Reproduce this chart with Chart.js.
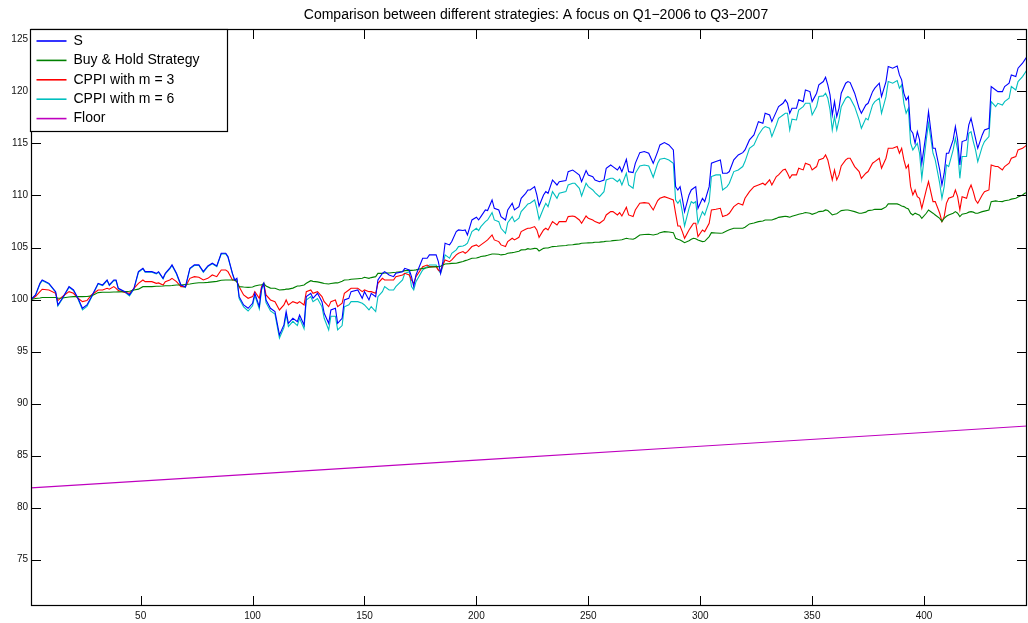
<!DOCTYPE html>
<html>
<head>
<meta charset="utf-8">
<script src="https://cdn.jsdelivr.net/npm/chart.js@4.4.1/dist/chart.umd.min.js"></script>
<style>
  html, body { margin: 0; padding: 0; background: #fff; }
  canvas { display: block; }
</style>
</head>
<body>
<canvas id="c" width="1028" height="623"></canvas>
<script>
const TITLE = "Comparison between different strategies: A focus on Q1\u22122006 to Q3\u22122007";
const seriesLabels = ["S", "Buy & Hold Strategy", "CPPI with m = 3", "CPPI with m = 6", "Floor"];
const xTicks = [50, 100, 150, 200, 250, 300, 350, 400];
const yTicks = [75, 80, 85, 90, 95, 100, 105, 110, 115, 120, 125];

const days = [
  1,3,5,6,9,12,13,15,18,20,22,24,26,28,31,33,35,36,38,39,40,43,45,47,49,51,52,55,57,58,60,61,63,64,66,68,70,72,74,
  76,78,80,82,84,86,88,89,91,92,93,94,96,98,100,101,103,104,105,106,108,110,112,114,115,116,118,120,121,123,124,126,127,129,131,132,134,135,137,138,140,141,143,144,147,149,150,
  152,153,155,156,158,159,161,163,164,167,168,170,171,172,173,176,178,179,182,183,184,185,186,188,189,191,192,194,195,196,198,200,201,202,204,205,207,208,210,211,213,214,216,217,219,220,222,223,
  224,226,227,228,230,231,232,234,236,237,240,241,243,244,246,247,249,250,252,253,255,257,258,260,261,263,264,265,267,268,270,271,273,275,277,279,281,282,284,286,288,289,290,291,292,293,295,296,
  297,298,299,301,302,304,305,307,309,310,312,313,315,317,319,320,322,324,326,328,329,331,332,334,335,337,338,339,340,341,343,344,346,347,349,350,352,353,355,356,357,358,359,360,361,362,363,365,366,367,369,
  371,372,374,375,377,378,380,381,383,384,386,388,389,390,391,392,393,394,395,396,397,398,399,401,402,404,405,407,408,409,410,411,413,414,415,416,417,419,420,421,422,423,424,426,427,429,430,432,433,435,436,438,439,441,442,444,445,446
];

const S = [
  100.0,100.44,101.56,101.88,101.56,100.76,99.48,100.12,101.24,100.92,100.12,99.16,99.48,100.28,101.56,101.40,101.88,101.40,101.88,101.88,101.08,100.76,100.44,101.08,102.68,103.01,102.68,102.68,102.52,102.68,102.04,102.52,103.01,103.33,102.52,101.40,101.24,103.01,103.33,
  103.33,102.68,103.23,103.49,103.23,104.45,104.45,104.13,102.52,101.88,102.04,100.28,99.48,99.16,99.64,100.60,99.32,101.08,101.56,99.96,99.16,98.84,96.60,97.56,98.84,97.72,98.20,97.88,98.52,97.56,100.28,100.60,100.12,100.60,99.80,98.68,97.72,99.00,99.16,97.72,98.20,99.96,100.12,100.76,100.92,100.12,100.76,
  99.96,100.60,100.28,101.88,102.52,102.68,102.36,102.20,102.52,102.68,103.00,102.84,102.20,101.24,102.36,103.97,103.97,104.29,104.29,103.64,102.52,103.64,105.41,105.25,105.57,106.53,106.69,106.63,106.69,106.21,107.65,107.91,107.65,107.97,108.61,108.55,109.57,108.77,108.61,107.97,107.65,108.61,109.25,108.61,108.93,109.73,110.21,110.53,
  110.53,110.85,110.05,108.99,110.05,110.37,110.21,111.49,111.01,111.33,111.43,112.29,112.45,112.29,111.97,111.33,112.39,111.97,111.81,111.49,111.33,111.49,112.61,112.93,112.77,112.45,112.77,112.29,113.48,112.29,112.20,113.09,114.12,114.22,114.06,113.09,114.22,114.86,115.08,114.86,114.38,110.85,110.53,110.85,109.73,108.45,110.05,110.53,
  110.69,110.85,108.77,109.73,109.41,110.85,113.10,113.26,113.42,112.14,112.14,112.30,113.42,113.90,114.12,114.38,115.34,115.82,117.10,116.94,117.90,117.74,117.10,118.06,118.54,118.86,119.19,118.86,117.90,118.38,118.38,119.19,119.02,120.15,119.99,119.02,119.83,120.63,120.95,121.36,120.63,119.67,117.74,119.02,117.58,118.38,119.83,120.79,120.95,120.85,119.83,
  118.38,117.90,118.70,118.86,119.98,120.31,120.79,119.50,120.95,122.39,122.23,122.45,121.59,121.11,119.82,119.18,119.50,116.30,115.98,115.02,116.14,115.34,113.10,116.14,118.06,114.54,114.54,112.46,111.01,112.14,114.06,114.06,115.34,116.62,115.34,112.94,115.18,115.34,116.78,117.42,116.46,115.50,114.54,115.82,116.30,116.46,120.47,120.14,119.98,119.98,120.47,120.79,121.59,121.43,122.23,122.71,123.03,123.35
];

const buyHold = [
  100.0,100.10,100.15,100.19,100.20,100.20,100.12,100.15,100.25,100.28,100.30,100.28,100.30,100.35,100.67,100.70,100.70,100.70,100.72,100.72,100.74,100.76,100.80,100.92,101.00,101.24,101.24,101.24,101.28,101.28,101.30,101.32,101.33,101.35,101.40,101.40,101.45,101.50,101.56,
  101.62,101.62,101.65,101.70,101.75,101.85,101.88,101.88,101.88,101.88,101.70,101.24,101.20,101.17,101.20,101.30,101.40,101.40,101.55,101.30,101.10,101.08,100.92,100.95,101.00,101.00,101.10,101.30,101.30,101.40,101.56,101.81,101.75,101.70,101.60,101.55,101.49,101.55,101.60,101.60,101.75,101.88,101.90,101.95,102.00,102.04,102.14,
  102.04,102.11,102.20,102.52,102.52,102.55,102.55,102.60,102.62,102.70,102.78,102.80,102.80,102.82,102.85,103.00,103.05,103.10,103.16,103.16,103.20,103.32,103.42,103.45,103.48,103.49,103.55,103.65,103.74,103.80,103.97,104.00,104.05,104.13,104.20,104.25,104.38,104.38,104.35,104.29,104.35,104.45,104.51,104.55,104.65,104.77,104.80,104.89,
  104.83,104.92,104.90,104.67,104.92,104.95,104.95,105.09,105.12,105.15,105.20,105.24,105.26,105.30,105.35,105.41,105.44,105.45,105.47,105.50,105.52,105.57,105.60,105.63,105.66,105.70,105.72,105.75,105.89,105.85,105.79,105.90,106.21,106.25,106.27,106.21,106.30,106.43,106.53,106.49,106.43,105.89,105.79,105.73,105.60,105.47,105.66,105.79,
  105.89,105.85,105.73,105.57,105.60,106.05,106.43,106.40,106.37,106.40,106.62,106.70,106.85,106.85,106.85,106.95,107.27,107.35,107.49,107.55,107.65,107.65,107.65,107.80,107.90,107.97,108.00,107.97,107.91,108.00,108.13,108.20,108.29,108.36,108.30,108.19,108.35,108.45,108.50,108.61,108.55,108.36,108.13,108.20,108.25,108.40,108.55,108.61,108.60,108.55,108.45,
  108.29,108.29,108.40,108.55,108.60,108.67,108.67,108.67,108.90,109.19,109.19,109.19,109.10,109.00,108.93,108.80,108.70,108.29,108.13,108.30,108.20,108.10,107.81,108.29,108.61,108.30,108.13,107.80,107.49,107.81,108.00,108.13,108.30,108.45,108.30,107.97,108.20,108.29,108.40,108.45,108.40,108.29,108.30,108.45,108.50,108.61,109.41,109.48,109.45,109.41,109.50,109.57,109.65,109.73,109.85,110.05,110.21,110.28
];

const cppi3 = [
  100.0,100.28,100.76,100.99,100.92,100.60,99.90,100.28,100.76,100.60,100.12,99.80,99.90,100.44,100.92,100.92,101.08,100.99,101.24,101.08,100.86,100.67,100.60,101.08,101.56,101.88,101.72,101.72,101.56,101.60,101.40,101.72,101.88,102.04,101.72,101.24,101.24,102.04,102.20,
  102.14,101.88,102.04,102.36,102.20,102.84,102.84,102.68,101.88,101.88,101.72,101.24,100.44,100.12,100.28,100.76,100.12,101.24,101.56,100.44,99.96,99.80,99.00,99.48,99.96,99.48,99.80,99.64,99.80,99.48,100.76,100.92,100.60,100.76,100.28,99.80,99.32,99.80,99.96,99.32,99.64,100.60,100.92,101.08,101.08,100.76,100.92,
  100.76,100.76,100.60,101.56,102.04,101.88,101.88,101.88,102.20,102.36,102.52,102.36,101.88,101.56,102.20,103.16,103.32,103.16,103.16,102.84,102.68,103.32,103.81,103.64,103.81,104.29,104.45,104.61,104.45,104.61,105.09,105.25,105.09,105.25,105.57,105.73,106.21,105.73,105.57,105.25,105.09,105.57,105.89,105.73,105.98,106.53,106.75,106.85,
  106.85,107.01,106.69,105.98,106.69,106.85,106.69,107.49,107.17,107.49,107.49,107.97,108.03,107.97,107.65,107.33,108.03,107.81,107.65,107.49,107.33,107.65,108.13,108.45,108.45,108.13,108.35,108.03,108.87,108.13,107.97,108.61,109.25,109.31,109.25,108.61,109.51,109.73,109.89,109.73,109.57,108.29,107.07,107.07,106.53,105.89,106.69,107.01,
  107.33,107.33,106.05,106.69,106.53,107.33,108.61,108.68,108.77,107.97,108.13,108.29,108.93,109.25,109.09,109.73,110.37,110.85,111.01,111.18,111.01,111.50,111.01,111.82,111.98,112.46,112.52,112.14,111.66,111.98,111.98,112.62,112.46,113.10,112.94,112.46,112.78,113.42,113.58,113.90,113.42,112.46,111.50,112.46,111.50,111.98,112.84,113.42,113.58,113.58,112.78,
  112.30,111.65,112.14,112.30,113.10,113.26,113.58,112.62,113.58,114.54,114.54,114.70,114.06,114.54,113.42,112.62,112.94,110.85,110.05,110.53,109.89,109.73,108.77,110.53,111.33,109.41,109.41,108.29,107.49,107.97,109.25,109.73,109.89,110.53,109.89,108.61,109.89,109.73,110.53,111.01,110.37,109.57,109.25,110.05,110.37,110.53,112.94,112.78,112.78,112.46,112.78,113.10,113.58,113.74,114.38,114.54,114.70,114.86
];

const cppi6 = [
  100.0,100.40,101.50,101.82,101.50,100.70,99.38,100.05,101.18,100.86,100.05,99.00,99.35,100.20,101.50,101.34,101.82,101.34,101.82,101.82,101.02,100.70,100.35,101.00,102.62,102.95,102.62,102.62,102.46,102.62,101.98,102.46,102.95,103.27,102.46,101.30,101.15,102.95,103.27,
  103.27,102.62,103.17,103.43,103.17,104.39,104.39,104.07,102.46,101.82,101.90,100.10,99.30,98.90,99.40,100.40,99.10,100.90,101.50,99.70,98.90,98.60,96.30,97.30,98.60,97.40,97.90,97.50,98.20,97.20,99.96,100.28,99.80,100.10,99.30,98.20,97.08,98.40,98.40,97.08,97.50,99.30,99.50,99.80,99.80,99.64,99.48,
  99.00,99.32,98.84,100.28,100.76,101.24,100.92,100.92,101.24,101.88,102.52,102.68,101.24,100.92,101.72,102.84,103.16,103.32,103.32,102.84,102.52,103.16,104.29,103.97,104.45,104.77,105.09,105.15,105.25,105.41,106.53,106.85,106.63,107.01,107.49,107.65,108.35,107.65,107.49,106.85,106.37,107.39,107.97,107.49,107.81,108.45,108.93,109.19,
  109.25,109.57,108.77,107.71,108.77,109.25,108.93,110.37,109.73,110.21,110.37,111.01,111.17,111.17,110.69,109.95,111.17,110.85,110.53,110.27,109.89,110.37,111.49,111.65,111.65,111.33,111.56,111.01,112.13,111.01,110.69,112.13,112.84,112.93,112.84,111.75,113.09,113.48,113.58,113.41,113.09,109.57,109.25,109.57,108.45,107.07,108.77,109.41,
  109.25,109.41,107.33,108.45,108.13,109.41,111.82,111.98,111.98,110.53,110.85,111.18,112.30,112.46,112.78,113.26,114.54,114.86,115.82,116.46,116.62,116.46,115.66,116.78,117.42,117.74,117.90,117.90,116.30,117.33,117.26,118.22,118.54,118.86,118.86,117.74,118.54,119.51,119.57,119.83,119.35,118.22,116.30,117.58,116.30,117.26,118.54,119.35,119.51,119.35,118.54,
  117.26,116.46,117.42,117.26,118.70,119.02,119.34,117.90,119.50,120.95,120.79,121.04,120.31,120.63,118.86,117.90,118.38,115.02,114.38,114.70,115.02,114.06,111.65,115.34,116.94,114.06,113.42,111.17,109.73,110.85,112.94,112.78,114.38,115.50,114.38,111.65,113.74,113.74,115.98,116.14,115.18,114.38,113.26,114.70,115.18,115.66,119.02,118.54,118.86,118.70,119.02,119.34,120.47,120.14,120.95,121.43,121.75,122.07
];

const floorDays = [1, 100, 200, 300, 400, 446];
const floorVals = [81.90, 83.22, 84.57, 85.90, 87.23, 87.85];

const colors = ["#0000ff", "#008000", "#ff0000", "#00bfbf", "#bf00bf"];
const FONT = "'Liberation Sans', Arial, Helvetica, sans-serif";

function pts(xs, ys) { return xs.map((d, i) => ({ x: d, y: ys[i] })); }

const seriesData = [pts(days, S), pts(days, buyHold), pts(days, cppi3), pts(days, cppi6), pts(floorDays, floorVals)];

const framePlugin = {
  id: 'frame',
  afterLayout(chart) {
    if (chart.titleBlock) {
      chart.titleBlock.left += 7;
      chart.titleBlock.right += 7;
    }
  },
  afterDatasetsDraw(chart) {
    const { ctx, chartArea: a, scales: { x, y } } = chart;
    ctx.save();
    ctx.strokeStyle = '#000';
    ctx.lineWidth = 1;
    ctx.beginPath();
    yTicks.forEach(v => {
      const py = Math.round(y.getPixelForValue(v)) + 0.5;
      ctx.moveTo(a.left, py); ctx.lineTo(a.left + 10, py);
      ctx.moveTo(a.right, py); ctx.lineTo(a.right - 10, py);
    });
    xTicks.forEach(v => {
      const px = Math.round(x.getPixelForValue(v)) + 0.5;
      ctx.moveTo(px, a.bottom); ctx.lineTo(px, a.bottom - 10);
      ctx.moveTo(px, a.top); ctx.lineTo(px, a.top + 10);
    });
    ctx.stroke();
    ctx.lineWidth = 1.2;
    ctx.strokeRect(Math.round(a.left) + 0.5, Math.round(a.top) + 0.5,
                   Math.round(a.right - a.left) - 1, Math.round(a.bottom - a.top) - 1);
    ctx.restore();
  },
  afterDraw(chart) {
    const { ctx, chartArea: a } = chart;
    const bx = Math.round(a.left) - 0.5, by = Math.round(a.top) + 0.5;
    const bw = 197, bh = 102;
    ctx.save();
    ctx.fillStyle = '#fff';
    ctx.fillRect(bx, by, bw, bh);
    ctx.strokeStyle = '#000';
    ctx.lineWidth = 1.2;
    ctx.strokeRect(bx, by, bw, bh);
    ctx.font = "14px " + FONT;
    ctx.textBaseline = 'middle';
    ctx.textAlign = 'left';
    chart.data.datasets.forEach((ds, i) => {
      const ry = by + 11.5 + i * 19.4;
      ctx.strokeStyle = ds.borderColor;
      ctx.lineWidth = 1.6;
      ctx.beginPath();
      ctx.moveTo(bx + 6, ry);
      ctx.lineTo(bx + 36, ry);
      ctx.stroke();
      ctx.fillStyle = '#000';
      ctx.fillText(ds.label, bx + 43, ry);
    });
    ctx.restore();
  }
};

new Chart(document.getElementById('c'), {
  type: 'line',
  data: {
    datasets: seriesLabels.map((lab, i) => ({
      label: lab,
      data: seriesData[i],
      borderColor: colors[i],
      backgroundColor: colors[i],
      borderWidth: 1.1,
      pointRadius: 0,
      tension: 0,
      fill: false
    }))
  },
  options: {
    responsive: false,
    animation: false,
    events: [],
    layout: { padding: { left: 0, right: 1, top: 0, bottom: 0 } },
    plugins: {
      legend: { display: false },
      tooltip: { enabled: false },
      title: {
        display: true,
        text: TITLE,
        fullSize: false,
        color: '#000',
        font: { family: FONT, size: 14, weight: 'normal' },
        padding: { top: 7, bottom: 5.2 }
      }
    },
    scales: {
      x: {
        type: 'linear',
        min: 1,
        max: 446,
        afterBuildTicks: s => { s.ticks = xTicks.map(v => ({ value: v })); },
        afterFit: s => { s.height = 17; },
        grid: { display: false, drawTicks: false },
        border: { display: false },
        ticks: { color: '#111', font: { family: FONT, size: 10 }, padding: 4, maxRotation: 0, autoSkip: false }
      },
      y: {
        type: 'linear',
        min: 70.55,
        max: 126,
        afterBuildTicks: s => { s.ticks = yTicks.map(v => ({ value: v })); },
        afterFit: s => { s.width = 31; },
        grid: { display: false, drawTicks: false },
        border: { display: false },
        ticks: { color: '#111', font: { family: FONT, size: 10 }, padding: 3, autoSkip: false }
      }
    }
  },
  plugins: [framePlugin]
});
</script>
</body>
</html>
